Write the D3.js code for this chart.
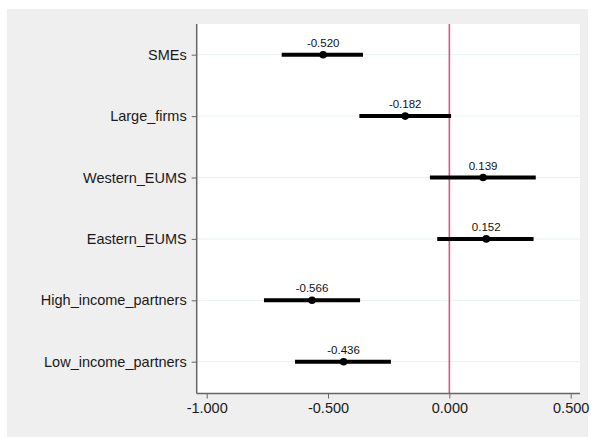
<!DOCTYPE html>
<html>
<head>
<meta charset="utf-8">
<script src="https://cdn.jsdelivr.net/npm/d3@7"></script>
<style>
  html, body { margin: 0; padding: 0; background: #ffffff; }
  svg { display: block; font-family: "Liberation Sans", Arial, Helvetica, sans-serif; }
</style>
</head>
<body>
<svg id="chart" width="595" height="437"></svg>
<script>
// Coefficient estimates with confidence intervals, one row per group
const categories = ["SMEs", "Large_firms", "Western_EUMS", "Eastern_EUMS", "High_income_partners", "Low_income_partners"];
const estimates  = [-0.520, -0.182, 0.139, 0.152, -0.566, -0.436];
const ciLower    = [-0.691, -0.371, -0.080, -0.050, -0.764, -0.636];
const ciUpper    = [-0.356, 0.007, 0.356, 0.347, -0.368, -0.241];
const xTicks     = [-1.0, -0.5, 0.0, 0.5];

const rows = categories.map((c, i) => ({ cat: c, est: estimates[i], lo: ciLower[i], hi: ciUpper[i] }));

const svg = d3.select("#chart");

// Outer panel and plot region
const panel = { x: 7, y: 9, w: 581, h: 428 };
const plot = { left: 196.7, right: 580, top: 24, bottom: 393.5 };

const x = d3.scaleLinear().domain([-1, 0.5]).range([206.7, 570.7]);
const y = d3.scalePoint().domain(categories).range([54.7, 361.7]);

svg.append("rect")
  .attr("x", panel.x).attr("y", panel.y)
  .attr("width", panel.w).attr("height", panel.h)
  .attr("fill", "#efefef");

svg.append("rect")
  .attr("x", plot.left).attr("y", plot.top)
  .attr("width", plot.right - plot.left).attr("height", plot.bottom - plot.top)
  .attr("fill", "#ffffff");

// Horizontal gridlines at each group
svg.append("g").selectAll("line").data(categories).join("line")
  .attr("x1", plot.left).attr("x2", plot.right)
  .attr("y1", d => y(d)).attr("y2", d => y(d))
  .attr("stroke", "#e8f0f1").attr("stroke-width", 1);

// Zero reference line
svg.append("line")
  .attr("x1", x(0)).attr("x2", x(0))
  .attr("y1", plot.top).attr("y2", plot.bottom)
  .attr("stroke", "#d05a7c").attr("stroke-width", 1.6);

// Confidence intervals
svg.append("g").selectAll("line").data(rows).join("line")
  .attr("x1", d => x(d.lo)).attr("x2", d => x(d.hi))
  .attr("y1", d => y(d.cat)).attr("y2", d => y(d.cat))
  .attr("stroke", "#000").attr("stroke-width", 4);

// Point estimates
svg.append("g").selectAll("circle").data(rows).join("circle")
  .attr("cx", d => x(d.est)).attr("cy", d => y(d.cat))
  .attr("r", 3.8).attr("fill", "#000");

// Value labels above points
svg.append("g").selectAll("text").data(rows).join("text")
  .attr("x", d => x(d.est)).attr("y", d => y(d.cat) - 8)
  .attr("text-anchor", "middle")
  .attr("font-size", 11.5)
  .attr("fill", "#111")
  .text(d => d3.format(".3f")(d.est).replace("−", "-"));

// Axes
const axisColor = "#666666";
const yAxis = svg.append("g")
  .attr("transform", `translate(${plot.left},0)`)
  .call(d3.axisLeft(y).tickSize(5).tickPadding(5));
yAxis.select(".domain").remove();
yAxis.append("line")
  .attr("x1", 0).attr("x2", 0).attr("y1", plot.top).attr("y2", plot.bottom)
  .attr("stroke", axisColor).attr("stroke-width", 1.5);
yAxis.selectAll(".tick line").attr("stroke", axisColor).attr("stroke-width", 1);
yAxis.selectAll(".tick text")
  .attr("font-size", 14.5).attr("fill", "#1a1a1a")
  .attr("font-family", "'Liberation Sans', Arial, sans-serif");

const xAxis = svg.append("g")
  .attr("transform", `translate(0,${plot.bottom})`)
  .call(d3.axisBottom(x).tickValues(xTicks).tickSize(5).tickPadding(4)
    .tickFormat(d => d3.format(".3f")(d).replace("−", "-")));
xAxis.select(".domain").remove();
xAxis.append("line")
  .attr("x1", plot.left).attr("x2", plot.right).attr("y1", 0).attr("y2", 0)
  .attr("stroke", axisColor).attr("stroke-width", 1.5);
xAxis.selectAll(".tick line").attr("stroke", axisColor).attr("stroke-width", 1);
xAxis.selectAll(".tick text")
  .attr("font-size", 14.5).attr("fill", "#1a1a1a")
  .attr("font-family", "'Liberation Sans', Arial, sans-serif");
</script>
</body>
</html>
